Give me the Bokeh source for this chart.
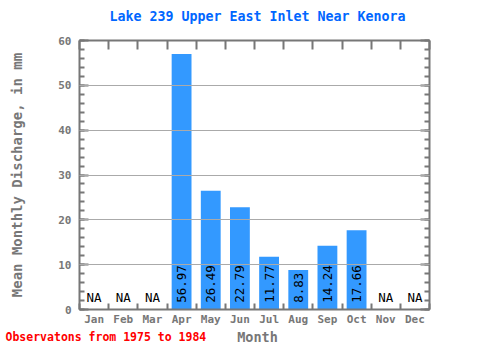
import math
from bokeh.plotting import figure
from bokeh.layouts import column
from bokeh.models import (Range1d, LinearAxis, FixedTicker, ColumnDataSource, Grid)
from bokeh.core.properties import value
from bokeh.embed import file_html
from bokeh.resources import INLINE

months = ["Jan", "Feb", "Mar", "Apr", "May", "Jun", "Jul", "Aug", "Sep", "Oct", "Nov", "Dec"]
discharge = [None, None, None, 56.97, 26.49, 22.79, 11.77, 8.83, 14.24, 17.66, None, None]
y_ticks = [0, 10, 20, 30, 40, 50, 60]
title_text = "Lake 239 Upper East Inlet Near Kenora"
y_label_text = "Mean Monthly Discharge, in mm"
x_label_text = "Month"
note_text = "Observatons from 1975 to 1984"

FONT = "DejaVu Sans Mono"
GRAY = "#777777"
W = 464
H0, H1, H2 = 32, 296, 16

centers = [i + 0.5 for i in range(len(months))]
have = [i for i, v in enumerate(discharge) if v is not None]
miss = [i for i, v in enumerate(discharge) if v is None]
src = ColumnDataSource(dict(x=[centers[i] for i in have],
                            v=[discharge[i] for i in have],
                            lab=["%.2f" % discharge[i] for i in have]))
src_na = ColumnDataSource(dict(x=[centers[i] for i in miss], lab=["NA"] * len(miss)))


def strip(h):
    f = figure(width=W, height=h, output_backend="svg", toolbar_location=None,
               x_range=Range1d(0, W), y_range=Range1d(0, h),
               x_axis_type=None, y_axis_type=None,
               min_border_left=0, min_border_right=0, min_border_top=0, min_border_bottom=0)
    f.outline_line_color = None
    f.frame_align = False
    return f


# top strip: chart title
p0 = strip(H0)
p0.text(x=[257], y=[H0 / 2], text=[title_text], text_align="center", text_baseline="middle",
        text_font=value(FONT), text_font_size="13.3px", text_font_style="bold",
        text_color="#0066ff")

p = figure(width=W, height=H1, output_backend="svg", toolbar_location=None,
           x_range=Range1d(0, 12), y_range=Range1d(0, 60),
           x_axis_type=None, y_axis_type=None,
           min_border_left=79, min_border_right=35, min_border_top=8, min_border_bottom=19)
p.outline_line_color = None
p.background_fill_color = "white"
p.border_fill_color = "white"


def style(ax):
    ax.axis_line_color = GRAY
    ax.axis_line_width = 2
    ax.major_tick_line_color = GRAY
    ax.minor_tick_line_color = GRAY
    ax.major_tick_line_width = 2
    ax.minor_tick_line_width = 2
    ax.major_tick_out = 0
    ax.minor_tick_out = 0
    ax.major_label_text_color = GRAY
    ax.major_label_text_font = FONT
    ax.major_label_text_font_size = "11px"
    ax.major_label_text_font_style = "bold"
    ax.axis_label_text_font = FONT
    ax.axis_label_text_font_style = "bold"
    ax.axis_label_text_color = GRAY


minor_y = list(range(0, 61, 2))
yl = LinearAxis(ticker=FixedTicker(ticks=y_ticks, minor_ticks=minor_y))
style(yl)
yl.major_tick_in = 9
yl.minor_tick_in = 5
yl.major_label_standoff = 8
yl.axis_label = y_label_text
yl.axis_label_text_font_size = "14px"
yl.axis_label_standoff = 30
p.add_layout(yl, "left")

yr = LinearAxis(ticker=FixedTicker(ticks=y_ticks, minor_ticks=minor_y))
style(yr)
yr.major_tick_in = 9
yr.minor_tick_in = 5
yr.major_label_text_font_size = "0px"
yr.major_label_text_color = None
yr.major_label_standoff = 0
p.add_layout(yr, "right")

bounds = list(range(0, 13))
xb = LinearAxis(ticker=FixedTicker(ticks=centers, minor_ticks=bounds))
style(xb)
xb.major_tick_in = 0
xb.minor_tick_in = 6
xb.major_label_standoff = 3
xb.major_label_overrides = {c: m for c, m in zip(centers, months)}
p.add_layout(xb, "below")

xt = LinearAxis(ticker=FixedTicker(ticks=bounds, minor_ticks=[]))
style(xt)
xt.major_tick_in = 9
xt.major_label_text_font_size = "0px"
xt.major_label_text_color = None
xt.major_label_standoff = 0
p.add_layout(xt, "above")

grid = Grid(dimension=1, ticker=FixedTicker(ticks=y_ticks[1:-1]),
            grid_line_color="#aaaaaa", grid_line_width=1, level="guide")
p.add_layout(grid)

p.vbar(x="x", top="v", bottom=0, width=0.68, source=src,
       fill_color="#3399ff", line_color=None)
p.text(x="x", y=1.5, text="lab", source=src, angle=math.pi / 2,
       text_align="left", text_baseline="middle",
       text_font=value(FONT), text_font_size="12.5px", text_color="black")
p.text(x="x", y=2.6, text="lab", source=src_na,
       text_align="center", text_baseline="middle",
       text_font=value(FONT), text_font_size="12.5px", text_color="black")

# bottom strip: axis title "Month" and the observation note on one row
p2 = strip(H2)
p2.text(x=[5], y=[H2 / 2], text=[note_text], text_align="left", text_baseline="middle",
        text_font=value(FONT), text_font_size="11.5px", text_font_style="bold",
        text_color="#ff0000")
p2.text(x=[257], y=[H2 / 2], text=[x_label_text], text_align="center", text_baseline="middle",
        text_font=value(FONT), text_font_size="13.5px", text_font_style="bold",
        text_color=GRAY)

layout = column(p0, p, p2, spacing=0)
open("out.html", "w").write(file_html(layout, INLINE))
